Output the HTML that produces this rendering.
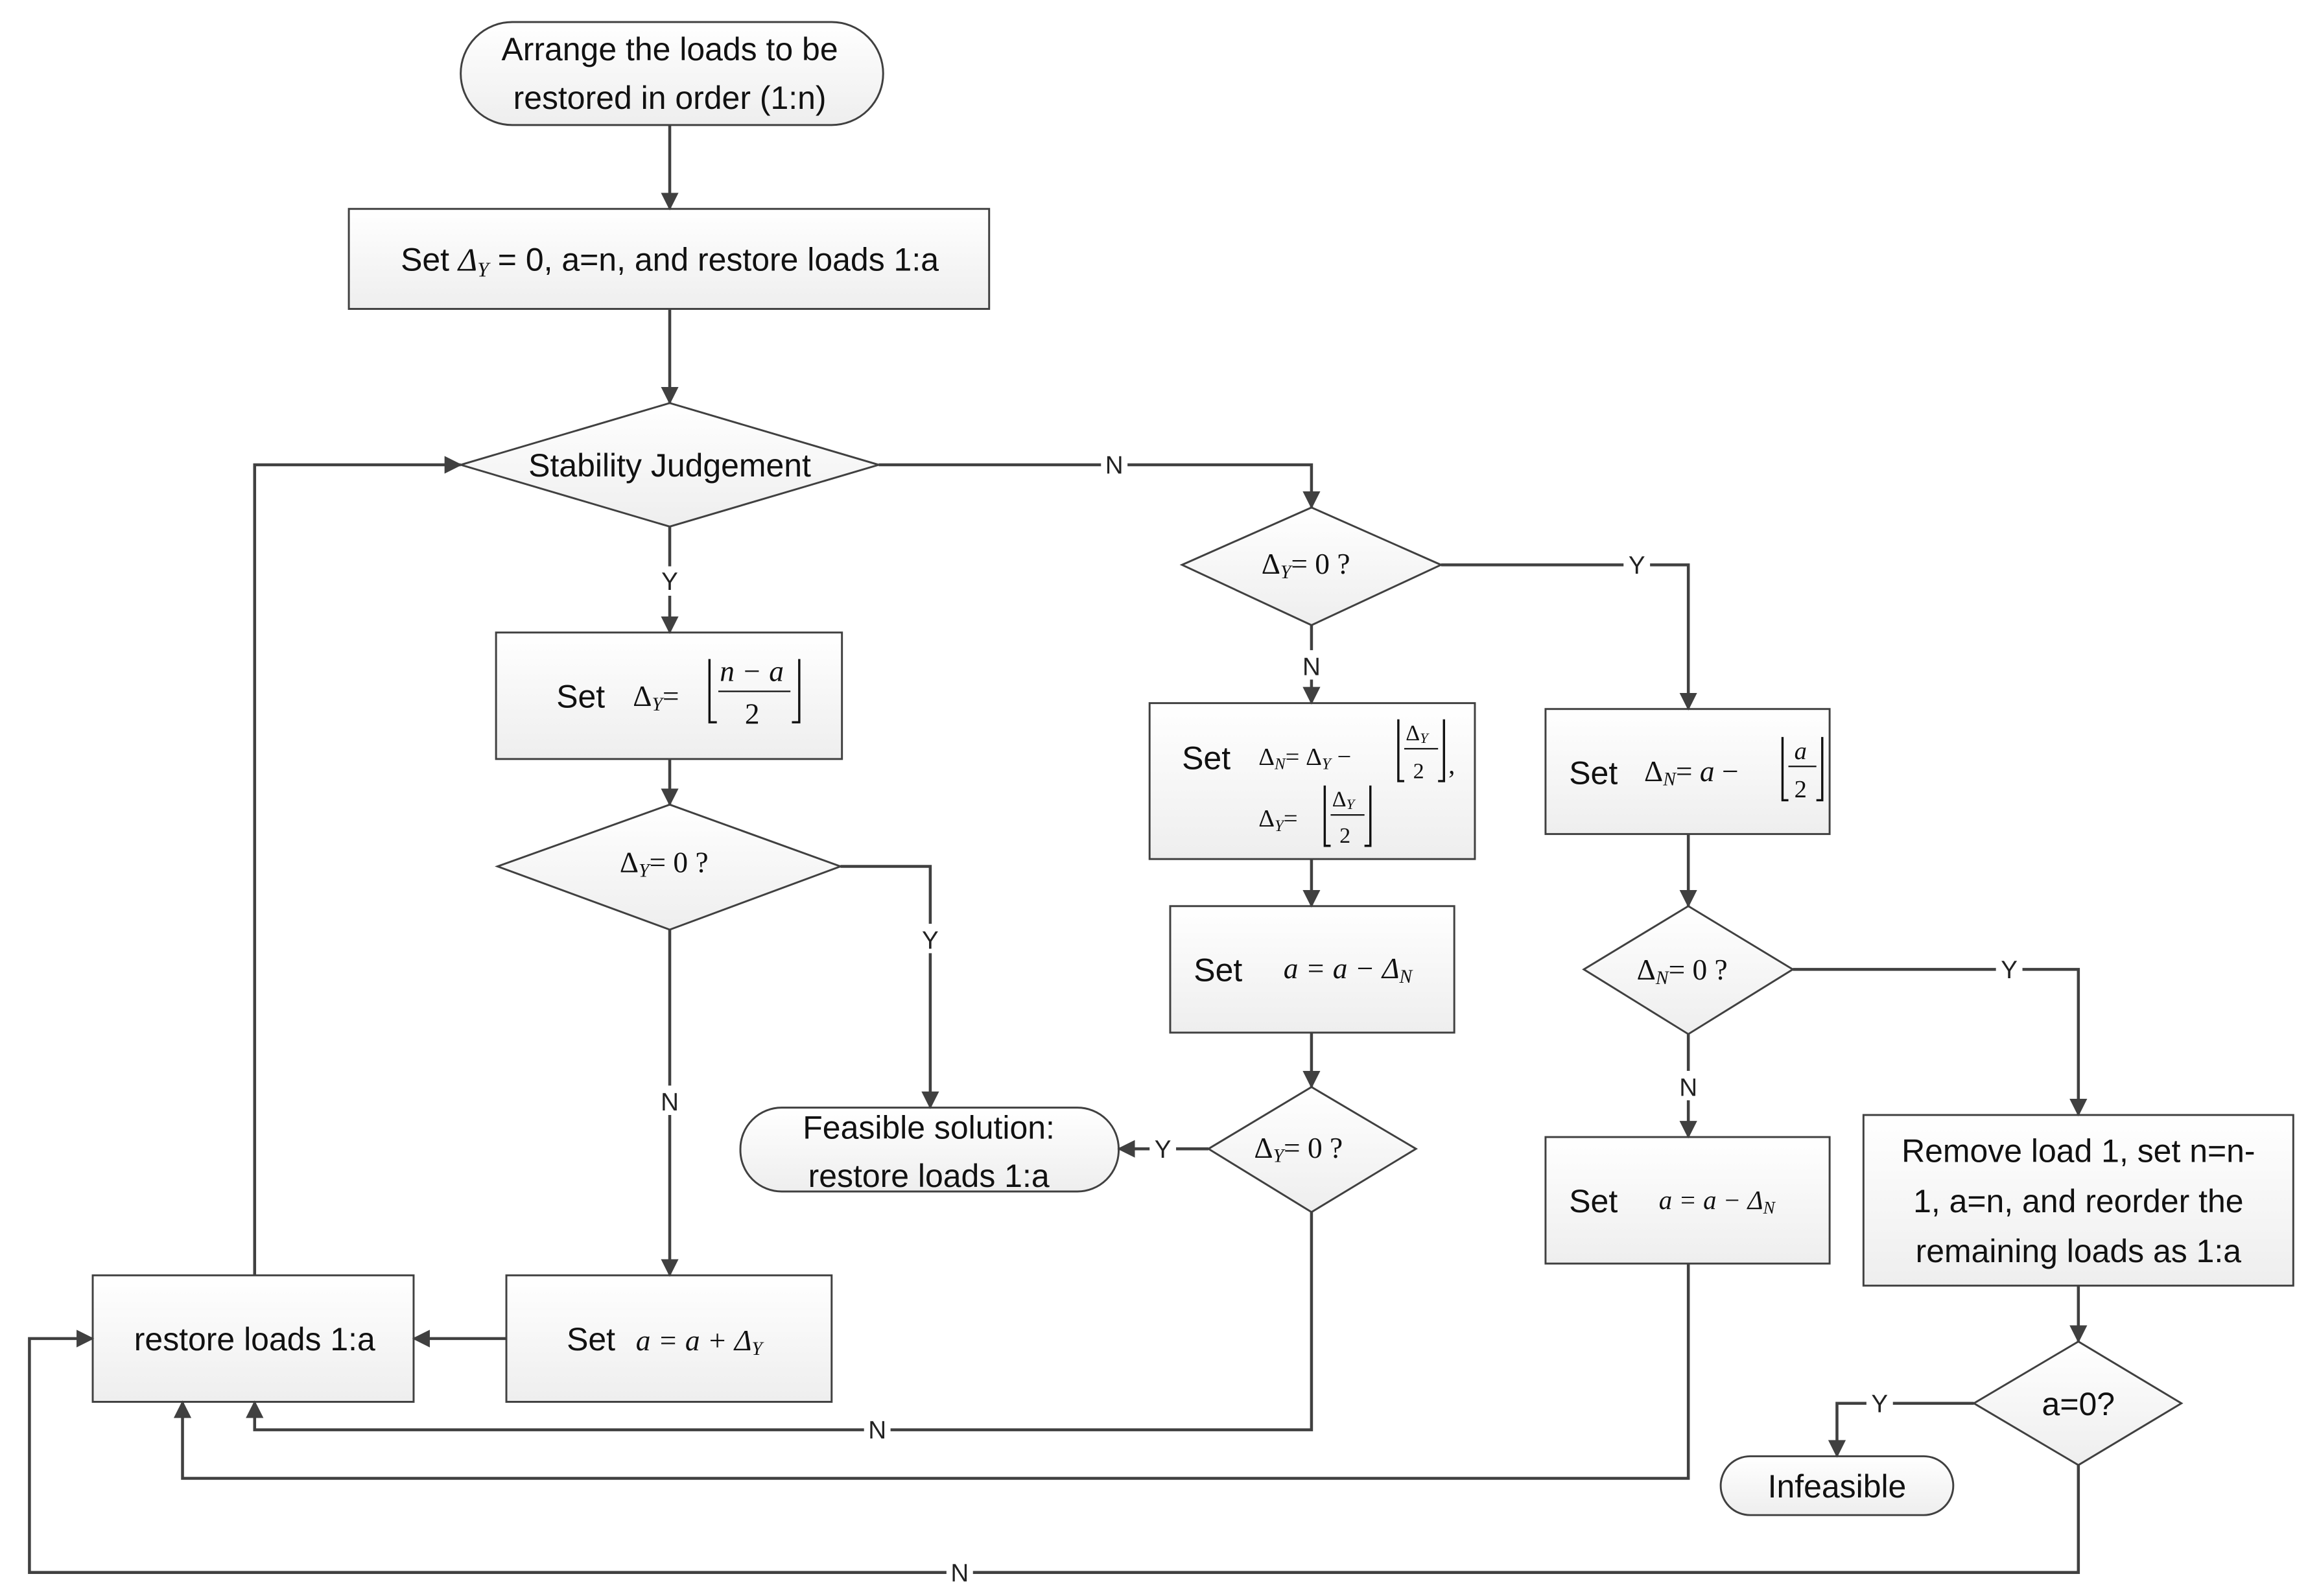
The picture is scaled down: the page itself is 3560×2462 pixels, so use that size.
<!DOCTYPE html>
<html><head><meta charset="utf-8"><style>html,body{margin:0;padding:0;background:#fff}svg{display:block}</style></head><body>
<svg width="3560" height="2462" viewBox="0 0 1568 1085" preserveAspectRatio="none" xmlns="http://www.w3.org/2000/svg" font-family="Liberation Sans, sans-serif">
<defs>
<linearGradient id="g" x1="0" y1="0" x2="0" y2="1"><stop offset="0" stop-color="#ffffff"/><stop offset="1" stop-color="#eeeeee"/></linearGradient>
<marker id="a" markerWidth="12" markerHeight="12" refX="11" refY="6" orient="auto" markerUnits="userSpaceOnUse"><path d="M0,0 L12,6 L0,12 z" fill="#404040"/></marker>
</defs>
<g fill="url(#g)" stroke="#404040" stroke-width="1.3">
<rect x="313" y="15" width="287" height="70" rx="35"/>
<rect x="237" y="142" width="435" height="68"/>
<polygon points="313,316 455,274 597,316 455,358"/>
<rect x="337" y="430" width="235" height="86"/>
<polygon points="338,589 455,547 571,589 455,632"/>
<rect x="503" y="753" width="257" height="57" rx="28"/>
<rect x="344" y="867" width="221" height="86"/>
<rect x="63" y="867" width="218" height="86"/>
<polygon points="803,384 891,345 979,384 891,425"/>
<rect x="781" y="478" width="221" height="106"/>
<rect x="795" y="616" width="193" height="86"/>
<polygon points="821,781 891,739 962,781 891,824"/>
<rect x="1050" y="482" width="193" height="85"/>
<polygon points="1076,659 1147,616 1218,659 1147,703"/>
<rect x="1050" y="773" width="193" height="86"/>
<rect x="1266" y="758" width="292" height="116"/>
<polygon points="1341,954 1412,912 1482,954 1412,996"/>
<rect x="1169" y="990" width="158" height="40" rx="20"/>
</g>
<g fill="none" stroke="#404040" stroke-width="2" marker-end="url(#a)">
<path d="M455,85 V142"/>
<path d="M455,210 V274"/>
<path d="M455,358 V430"/>
<path d="M455,516 V547"/>
<path d="M571,589 H632 V753"/>
<path d="M455,632 V867"/>
<path d="M344,910 H281"/>
<path d="M173,867 V316 H313"/>
<path d="M597,316 H891 V345"/>
<path d="M979,384 H1147 V482"/>
<path d="M891,425 V478"/>
<path d="M891,584 V616"/>
<path d="M891,702 V739"/>
<path d="M821,781 H760"/>
<path d="M891,824 V972 H173 V953"/>
<path d="M1147,567 V616"/>
<path d="M1218,659 H1412 V758"/>
<path d="M1147,703 V773"/>
<path d="M1147,859 V1005 H124 V953"/>
<path d="M1412,874 V912"/>
<path d="M1341,954 H1248 V990"/>
<path d="M1412,996 V1069 H20 V910 H63"/>
</g>
<g font-size="17" fill="#222" text-anchor="middle">
<rect x="446" y="385" width="18" height="20" fill="#fff"/><text x="455" y="401">Y</text>
<rect x="623" y="628" width="18" height="20" fill="#fff"/><text x="632" y="645">Y</text>
<rect x="446" y="738" width="18" height="20" fill="#fff"/><text x="455" y="755">N</text>
<rect x="748" y="306" width="18" height="20" fill="#fff"/><text x="757" y="322">N</text>
<rect x="1103" y="374" width="18" height="20" fill="#fff"/><text x="1112" y="390">Y</text>
<rect x="882" y="442" width="18" height="20" fill="#fff"/><text x="891" y="459">N</text>
<rect x="781" y="771" width="18" height="20" fill="#fff"/><text x="790" y="787">Y</text>
<rect x="587" y="962" width="18" height="20" fill="#fff"/><text x="596" y="978">N</text>
<rect x="1356" y="649" width="18" height="20" fill="#fff"/><text x="1365" y="665">Y</text>
<rect x="1138" y="728" width="18" height="20" fill="#fff"/><text x="1147" y="745">N</text>
<rect x="1268" y="944" width="18" height="20" fill="#fff"/><text x="1277" y="960">Y</text>
<rect x="643" y="1059" width="18" height="20" fill="#fff"/><text x="652" y="1075">N</text>
</g>
<g font-size="22" fill="#111" text-anchor="middle">
<text x="455" y="184">Set <tspan font-family="Liberation Serif, serif" font-style="italic">Δ<tspan font-size="14" dy="4">Y</tspan></tspan><tspan dy="-4"> = 0, a=n, and restore loads 1:a</tspan></text>
<text x="455" y="41">Arrange the loads to be</text>
<text x="455" y="74">restored in order (1:n)</text>
<text x="455" y="324">Stability Judgement</text>
<text x="631" y="774">Feasible solution:</text>
<text x="631" y="807">restore loads 1:a</text>
<text x="173" y="918">restore loads 1:a</text>
<text x="1412" y="790">Remove load 1,  set n=n-</text>
<text x="1412" y="824">1, a=n, and reorder the</text>
<text x="1412" y="858">remaining loads as 1:a</text>
<text x="1412" y="962">a=0?</text>
<text x="1248" y="1018">Infeasible</text>
</g>
<g font-size="22" fill="#111">
<text x="378" y="481">Set</text>
<text x="803" y="523">Set</text>
<text x="811" y="667">Set</text>
<text x="1066" y="533">Set</text>
<text x="1066" y="824">Set</text>
<text x="385" y="918">Set</text>
</g>
<g fill="none" stroke="#111" stroke-width="1.5">
<path d="M482,448 V491 H487 M543,448 V491 H538"/>
<path d="M950,489 V531 H954 M981,489 V531 H977"/>
<path d="M900,534 V575 H904 M931,534 V575 H927"/>
<path d="M1211,501 V544 H1215 M1238,501 V544 H1234"/>
</g>
<g font-family="Liberation Serif, serif" fill="#111" font-size="20">
<text x="430" y="480">Δ<tspan font-size="13" font-style="italic" dy="3">Y</tspan><tspan dy="-3">=</tspan></text>
<text x="489" y="463" font-style="italic">n − a</text><line x1="488" y1="470" x2="537" y2="470" stroke="#111"/><text x="506" y="492">2</text>
<text x="421" y="593">Δ<tspan font-size="13" font-style="italic" dy="3">Y</tspan><tspan dy="-3">= 0  ?</tspan></text>
<text x="857" y="390">Δ<tspan font-size="13" font-style="italic" dy="3">Y</tspan><tspan dy="-3">= 0 ?</tspan></text>
<text x="852" y="787">Δ<tspan font-size="13" font-style="italic" dy="3">Y</tspan><tspan dy="-3">= 0  ?</tspan></text>
<text x="1112" y="666">Δ<tspan font-size="13" font-style="italic" dy="3">N</tspan><tspan dy="-3">= 0 ?</tspan></text>
<text x="432" y="918" font-style="italic">a = a + Δ<tspan font-size="13" dy="3">Y</tspan></text>
<text x="872" y="665" font-style="italic">a = a − Δ<tspan font-size="13" dy="3">N</tspan></text>
<text x="1127" y="822" font-style="italic" font-size="18">a = a − Δ<tspan font-size="12" dy="3">N</tspan></text>
<text x="855" y="520" font-size="17">Δ<tspan font-size="11" font-style="italic" dy="3">N</tspan><tspan dy="-3">= Δ</tspan><tspan font-size="11" font-style="italic" dy="3">Y</tspan><tspan dy="-3"> −</tspan></text>
<text x="955" y="503" font-size="15">Δ<tspan font-size="10" font-style="italic" dy="2">Y</tspan></text><line x1="954" y1="509" x2="977" y2="509" stroke="#111"/><text x="960" y="529" font-size="15">2</text><text x="984" y="526" font-size="18">,</text>
<text x="855" y="562" font-size="17">Δ<tspan font-size="11" font-style="italic" dy="3">Y</tspan><tspan dy="-3">=</tspan></text>
<text x="905" y="548" font-size="15">Δ<tspan font-size="10" font-style="italic" dy="2">Y</tspan></text><line x1="904" y1="554" x2="927" y2="554" stroke="#111"/><text x="910" y="573" font-size="15">2</text>
<text x="1117" y="531">Δ<tspan font-size="13" font-style="italic" dy="3">N</tspan><tspan dy="-3">= </tspan><tspan font-style="italic">a</tspan> −</text>
<text x="1219" y="516" font-style="italic" font-size="17">a</text><line x1="1215" y1="521" x2="1234" y2="521" stroke="#111"/><text x="1219" y="542" font-size="17">2</text>
</g>
</svg>
</body></html>
